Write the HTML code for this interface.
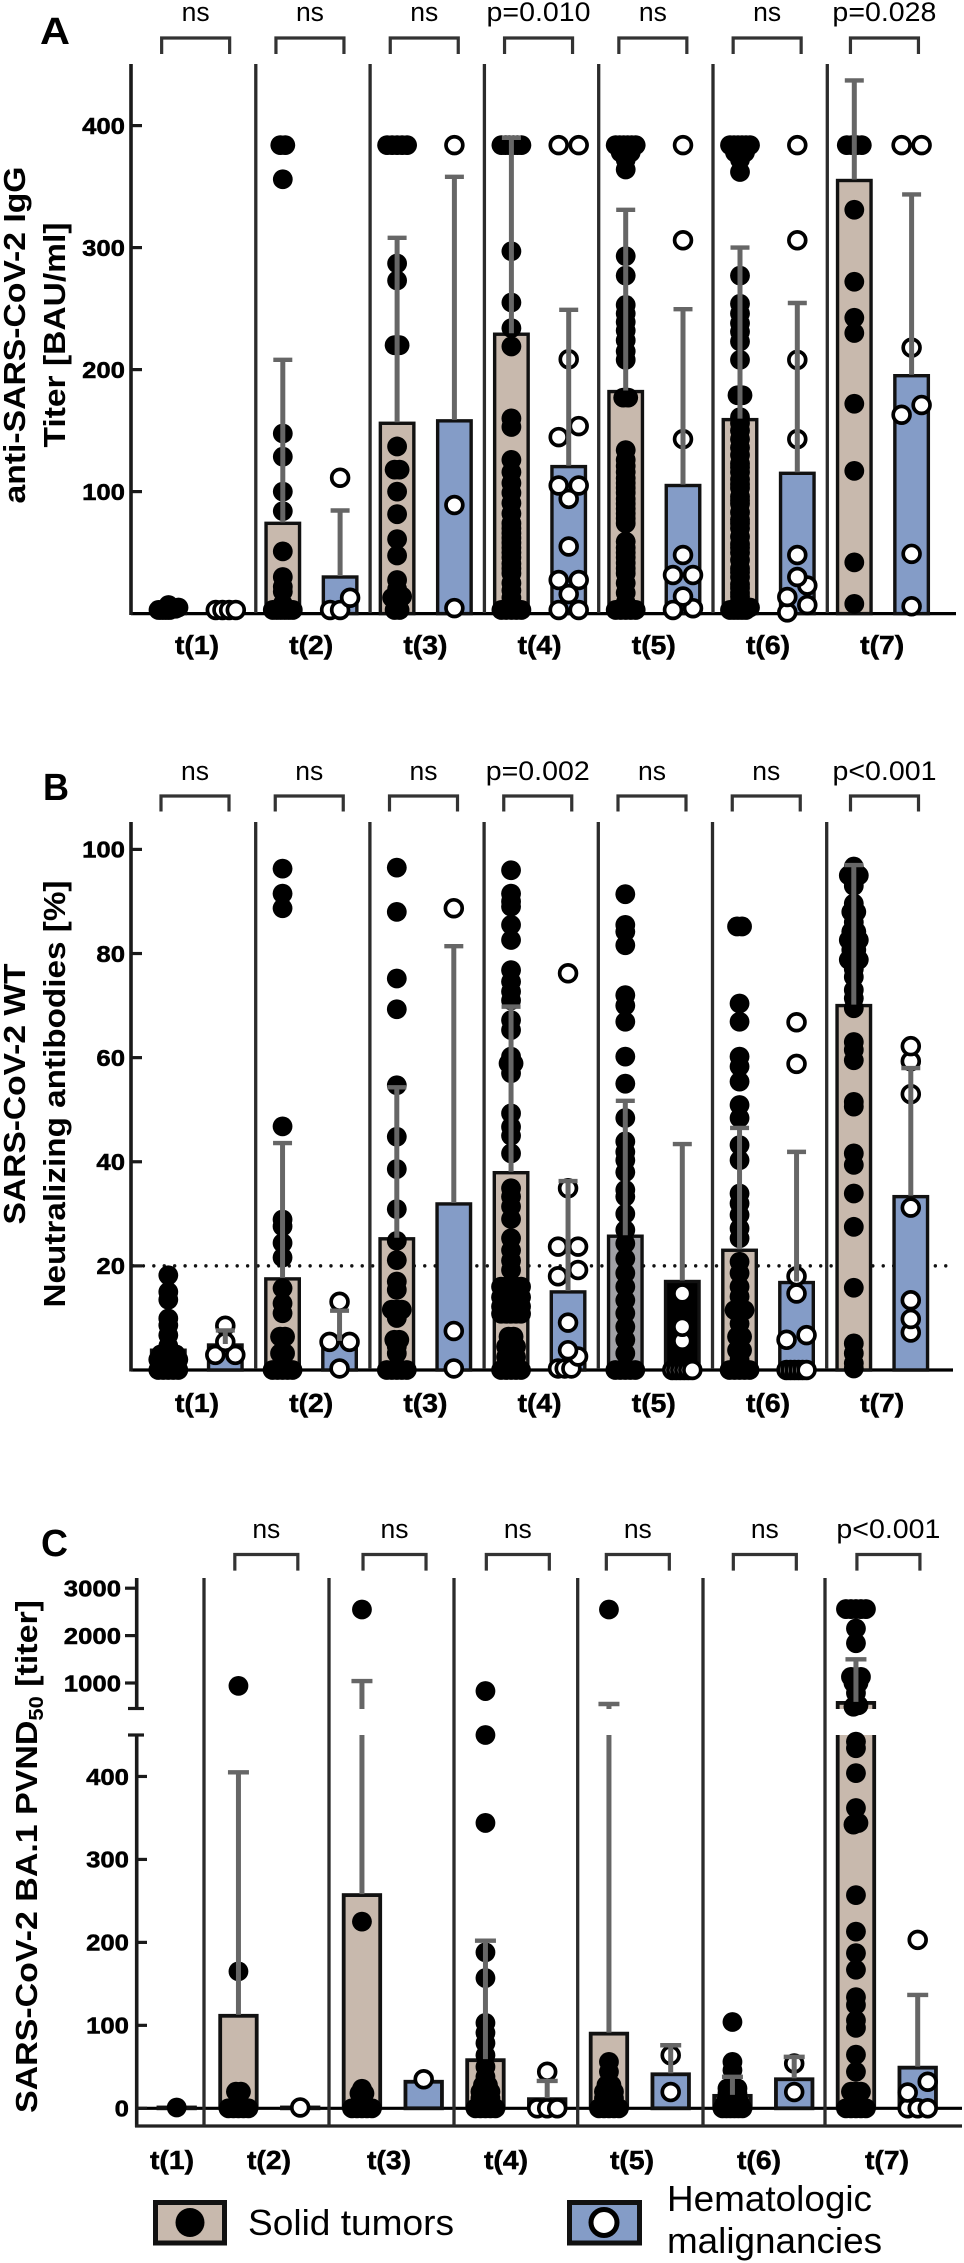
<!DOCTYPE html>
<html lang="en">
<head>
<meta charset="utf-8">
<title>SARS-CoV-2 antibody titers in solid tumors and hematologic malignancies</title>
<style>
html,body{margin:0;padding:0;background:#fff;}
svg{display:block;}
text{font-family:"Liberation Sans",sans-serif;fill:#000;}
.ttl{font-weight:bold;font-size:31px;}
.let{font-weight:bold;font-size:38px;}
.leg{font-size:36px;}
.heavy{stroke:#000;stroke-width:0.5px;}
</style>
</head>
<body>
<svg id="fig" xmlns="http://www.w3.org/2000/svg" width="964" height="2263" viewBox="0 0 964 2263">
  <text class="let" x="40" y="44" textLength="30" lengthAdjust="spacingAndGlyphs">A</text>
  <text class="let" x="43" y="800" textLength="26" lengthAdjust="spacingAndGlyphs">B</text>
  <text class="let" x="41" y="1556" textLength="27" lengthAdjust="spacingAndGlyphs">C</text>

  <text class="ttl" transform="translate(25,335) rotate(-90)" text-anchor="middle" textLength="337" lengthAdjust="spacingAndGlyphs">anti-SARS-CoV-2 IgG</text>
  <text class="ttl" transform="translate(65,335) rotate(-90)" text-anchor="middle" textLength="225" lengthAdjust="spacingAndGlyphs">Titer [BAU/ml]</text>
  <text class="ttl" transform="translate(25,1094) rotate(-90)" text-anchor="middle" textLength="261" lengthAdjust="spacingAndGlyphs">SARS-CoV-2 WT</text>
  <text class="ttl" transform="translate(65,1094) rotate(-90)" text-anchor="middle" textLength="427" lengthAdjust="spacingAndGlyphs">Neutralizing antibodies [%]</text>
  <text class="ttl" transform="translate(37,1856.5) rotate(-90)" text-anchor="middle" textLength="513" lengthAdjust="spacingAndGlyphs">SARS-CoV-2 BA.1 PVND<tspan dy="6" font-size="20">50</tspan><tspan dy="-6"> [titer]</tspan></text>

  <g id="layer-plots"></g>

  <g>
    <rect x="155.5" y="2202.5" width="69" height="40.5" fill="#c8b9ad" stroke="#111" stroke-width="5"/>
    <circle cx="190" cy="2222.5" r="14.5" fill="#000"/>
    <text class="leg" x="248" y="2235" textLength="206" lengthAdjust="spacingAndGlyphs">Solid tumors</text>
  </g>
  <g>
    <rect x="569.5" y="2202.5" width="70" height="40.5" fill="#849cc7" stroke="#111" stroke-width="5"/>
    <circle cx="604" cy="2222.5" r="13" fill="#fff" stroke="#000" stroke-width="5"/>
    <text class="leg" x="667" y="2211" textLength="205" lengthAdjust="spacingAndGlyphs">Hematologic</text>
    <text class="leg" x="667" y="2253" textLength="215" lengthAdjust="spacingAndGlyphs">malignancies</text>
  </g>
</svg>
<script>
const categories = ['t(1)','t(2)','t(3)','t(4)','t(5)','t(6)','t(7)'];

// Panel A – anti-SARS-CoV-2 IgG
const aTicks = [100,200,300,400];
const aSig = ['ns','ns','ns','p=0.010','ns','ns','p=0.028'];
const aMeanSolid = [4,74,156,229,182,159,355];
const aErrSolid = [4,208,308,390,331,300,437];
const aMeanHeme = [3,30,158,120.5,105,115,195];
const aErrHeme = [3,84.5,358,249,249.5,254.6,343.6];
const aPointsSolid = [
  [3,3,3,3,3,4,4,5,7],
  [3,3,3,3,3,3,8,18,22,30,51,84,100,128.6,147.6,356,384,384],
  [3,3,13,13,14,20,27.5,47.6,61,81.5,100,118,118,137,220,220,273,287,384,384,384,384,384],
  [3,3,3,3,3,8,13,19,25,33,37,41,46,50,54,58,62,66,70,74,82,90.6,99,107,116,126,153,160,219,234,255,297,384,384,384,384,384,384],
  [3,3,3,3,3,9,17,25,33,37,41.5,46,50,54,59,74,78,82,86,90,94,99,103,107,111,116,121,126,134,177,177,208,215,224,232,239,246,253,277,293,364,372,378,378,378,384,384,384,384,384,384],
  [3,3,3,3,3,5,7,10,14,17,21,24,30,34,37,44,50,54,57,63,70,74,77,83,90,93,96,103,106,110,116,120,123,130,136,143,150,156,161,179,179,208,223,231,238,246,254,277,362,372,378,378,378,384,384,384,384,384,384],
  [8,42,117,172,230,242.5,272,331,384,384,384,384]
];
const aPointsHeme = [
  [3,3,3,3],
  [3,3,13,111.4],
  [4.5,89,384],
  [3,3,16,27.5,27.5,55,94,105,105,144.7,153.7,208.5,384,384],
  [3,4.4,14,31.6,31.6,48,143,306,384],
  [1,7,13.6,23,30,48,143,208,306,384],
  [6,49,163,171,218,384,384]
];

// Panel B – SARS-CoV-2 WT neutralizing antibodies
const bTicks = [20,40,60,80,100];
const bSig = ['ns','ns','ns','p=0.002','ns','ns','p<0.001'];
const bThreshold = [20];
const bMeanSolid = [3.8,17.5,25.2,37.9,25.7,23,70];
const bErrSolid = [3.8,43.6,54.3,69.8,51.7,46.5,97];
const bMeanHeme = [4.8,5.4,31.9,15,17,16.8,33.3];
const bErrHeme = [7.6,11.4,81.4,36.3,43.4,41.9,58];
const bPointsSolid = [
  [0,0,0,0,0,2,2,2,2,2,3,3,3,3,4.6,6.7,8.6,9.9,13.5,15,18.2],
  [0,0,0,0,0,3.2,3.2,6.4,6.4,10.9,12.8,15.7,21.6,24.4,27.6,28.9,46.8,88.7,91.5,96.3],
  [0,0,0,0,0,3.2,4.5,5.8,5.8,10,11.6,11.6,11.6,15.4,17,21.1,24.8,30.9,38.6,44.8,54.7,69.3,75.2,88,96.5],
  [0,0,0,0,0,2.5,2.5,2.5,4.5,4.5,4.5,6.4,6.4,10.8,10.8,10.8,10.8,10.8,12.2,12.2,12.2,12.2,12.2,14,14,14,14,14,16,16,16,16,16,19.2,21,23,25.3,29,31.4,33.3,34.9,41.6,45,46.7,49.3,57,58.9,58.9,60.2,65.3,67.2,71,72.7,74.6,76.8,82.6,85.5,89,90,91.5,96],
  [0,0,0,0,0,3.2,5.8,8.3,10.9,13.4,16,18.6,21.4,24.3,26.9,30,33.3,34.6,38,40.3,41.9,43.9,48.4,55,60.2,66.9,70,72,81.6,84.2,85.5,91.4],
  [0,0,0,0,0,2,3.8,3.8,6.4,6.4,8.9,11.5,11.5,11.5,14.1,16,18.6,20.8,25.3,27.2,29.8,32,33.9,40.3,43.2,48.4,50.9,55.4,58.3,60.2,66.9,70.4,85.2,85.2],
  [0.3,1.3,3.2,5.1,15.8,27.5,33.9,39.4,41.6,50.6,51.5,59.5,61.5,63,69.5,71.4,73,75.5,77,78.8,78.8,78.8,80.7,80.7,82.6,82.6,82.6,84.2,84.2,86,88,88,89.6,93,95,95,95,96.7]
];
const bPointsHeme = [
  [2.9,2.9,5.4,8.5],
  [0.3,5.4,5.4,13.1],
  [0.3,7.5,88.7],
  [0.3,0.3,0.3,2.6,3.8,9.1,18,19.2,23.7,23.7,34.9,76.2],
  [0,0,0,0,0,0,5.6,8.3,14.7],
  [0,0,0,0,0,0,5.8,6.7,14.7,18,58.8,66.8],
  [7.2,9.8,13.4,31.2,53,59.3,62.2]
];

// Panel C – BA.1 PVND50
const cTicksLower = [0,100,200,300,400];
const cTicksUpper = [1000,2000,3000];
const cSig = ['','ns','ns','ns','ns','ns','p<0.001'];
const cMeanSolid = [1,111.5,257,58,90,15,580];
const cErrSolid = [1,405,1040,202,557,38,1500];
const cMeanHeme = [null,1,32,11,41,35,49];
const cErrHeme = [null,1,32,33,76,62,136.6];
const cPointsSolid = [
  [1],
  [0,0,0,0,0,20,20,165,940],
  [0,0,0,0,0,18,18,23.5,225,2550],
  [0,0,0,0,0,4,4,4,12,12,12,20,20,20,28,28,38,50,64,78.6,91,103,157,188,344,450,830],
  [0,0,0,0,0,4,4,4,12,12,12,20,20,20,28,28,44,56,2550],
  [0,0,0,0,0,0,6,6,6,6,18,18,18,24,24,24,46,56,104],
  [0,0,0,0,0,20,20,20,44,64.6,97,106,124.6,134,167,187,213,257,342,344,362,404,434,442,500,530,790,1000,1000,1130,1130,1130,1840,2150,2560,2560,2560,2560,2560]
];
const cPointsHeme = [
  [],
  [1],
  [35],
  [0,0,0,44],
  [19.6,64],
  [19.6,54],
  [0,0,0,19,32,203]
];

const NS = 'http://www.w3.org/2000/svg';
const plots = document.getElementById('layer-plots');
const SOLID_FILL = '#c8b9ad', HEME_FILL = '#849cc7';

function svgEl(tag, attrs, parent) {
  const el = document.createElementNS(NS, tag);
  for (const k in attrs) el.setAttribute(k, attrs[k]);
  (parent || plots).appendChild(el);
  return el;
}

// axis functions
const yA = v => 613.6 - v * 1.22;
const yB = v => 1370 - v * 5.206;
const yC = v => v <= 450 ? 2108.3 - v * 0.8296 : 1683 - (v - 1000) * 0.0474;

// category scales
const xA = (i, s) => 168.5 + 114.3 * i + (s ? 57.3 : 0);
const xB = (i, s) => 168.3 + 114.25 * i + (s ? 57 : 0);
const xC = (i, s) => 176.7 + 61.75 * (i === 0 ? 0 : 2 * i - 1) + (s ? 61.75 : 0);

// GraphPad-like row layout: near-equal values share a row and spread symmetrically
function rowLayout(values, yf, rowPx, stepMax) {
  const sorted = values.slice().sort((a, b) => a - b);
  const out = [];
  let row = [];
  const flush = () => {
    const k = row.length;
    const span = Math.min(stepMax * (k - 1), 20);
    row.forEach((v, i) => out.push({ v: v, dx: k > 1 ? -span / 2 + i * span / (k - 1) : 0 }));
    row = [];
  };
  sorted.forEach(v => {
    if (row.length && Math.abs(yf(v) - yf(row[0])) > rowPx) flush();
    row.push(v);
  });
  if (row.length) flush();
  return out;
}

function drawBar(cfg, i, s, mean, fill) {
  if (mean === null) return;
  const yTop = cfg.y(mean), yBase = cfg.y(0), cx = cfg.x(i, s);
  const r = svgEl('rect', { x: cx - cfg.barW / 2, y: yTop, width: cfg.barW, height: Math.max(yBase - yTop, 0.5), fill: fill, stroke: '#111', 'stroke-width': cfg.barStroke });
  
  
}

function drawPoints(cfg, i, s, values) {
  const g = svgEl('g', {});
  
  
  const placed = s ? rowLayout(values, cfg.y, 13, 20) : rowLayout(values, cfg.y, 3, 5);
  placed.forEach(p => {
    const c = svgEl('circle', s
      ? { cx: cfg.x(i, s) + p.dx, cy: cfg.y(p.v), r: 8.4, fill: '#fff', stroke: '#000', 'stroke-width': 3.7 }
      : { cx: cfg.x(i, s) + p.dx, cy: cfg.y(p.v), r: 9.9, fill: '#000' }, g);
    
    
  });
}

function drawError(cfg, i, s, mean, err) {
  if (mean === null || err <= mean) return;
  const cx = cfg.x(i, s), yM = cfg.y(mean), yE = cfg.y(err);
  const g = svgEl('g', {});
  
  
  if (cfg.gap && yM > cfg.gap[1] && yE < cfg.gap[0]) {
    svgEl('line', { x1: cx, x2: cx, y1: yM - 1, y2: cfg.gap[1], stroke: '#666', 'stroke-width': 5 }, g);
    svgEl('line', { x1: cx, x2: cx, y1: cfg.gap[0], y2: yE, stroke: '#666', 'stroke-width': 5 }, g);
  } else {
    svgEl('line', { x1: cx, x2: cx, y1: yM - 1, y2: yE, stroke: '#666', 'stroke-width': 5 }, g);
  }
  svgEl('line', { x1: cx - cfg.capW / 2, x2: cx + cfg.capW / 2, y1: yE, y2: yE, stroke: '#666', 'stroke-width': 4.4 }, g);
}

function drawLine(name, x1, y1, x2, y2, color, width) {
  const l = svgEl('line', { x1: x1, y1: y1, x2: x2, y2: y2, stroke: color, 'stroke-width': width });
  
  
  return l;
}

function drawTickLabel(name, txt, xRight, y, size) {
  const t = svgEl('text', { x: xRight, y: y + 8.3, class: 'heavy', 'text-anchor': 'end', 'font-weight': 'bold', 'font-size': size, textLength: txt.length * 14.3, lengthAdjust: 'spacingAndGlyphs' });
  t.textContent = txt;
  
  
}

function drawSig(cfg, i, label) {
  if (!label) return;
  const cx = (cfg.x(i, 0) + cfg.x(i, 1)) / 2 + cfg.brShift[i];
  const hw = cfg.brHalf;
  const br = svgEl('path', { d: 'M' + (cx - hw) + ' ' + cfg.brBottom + 'V' + cfg.brTop + 'H' + (cx + hw) + 'V' + cfg.brBottom, fill: 'none', stroke: '#333', 'stroke-width': 3.2 });
  
  
  const t = svgEl('text', { x: cx, y: cfg.sigY, 'text-anchor': 'middle', 'font-size': 27, textLength: label === 'ns' ? 28 : 104, lengthAdjust: 'spacingAndGlyphs' });
  t.textContent = label;
  
  
}

function drawCategoryLabel(cfg, i, x) {
  const t = svgEl('text', { x: x, y: cfg.catY, class: 'heavy', 'text-anchor': 'middle', 'font-weight': 'bold', 'font-size': 26, textLength: 44, lengthAdjust: 'spacingAndGlyphs' });
  t.textContent = categories[i];
  
  
}

function drawSeries(cfg, d) {
  categories.forEach((c, i) => {
    let solidFill = SOLID_FILL, hemeFill = HEME_FILL;
    if (cfg.id === 'b' && i === 0) { solidFill = '#000'; }
    if (cfg.id === 'b' && i === 4) { solidFill = '#a0a0a5'; hemeFill = '#000'; }
    drawBar(cfg, i, 0, d.meanSolid[i], solidFill);
    drawBar(cfg, i, 1, d.meanHeme[i], hemeFill);
  });
  if (cfg.gap) {
    const strip = svgEl('rect', { x: 138, y: cfg.gap[0], width: 826, height: cfg.gap[1] - cfg.gap[0], fill: '#fff' });
    
    
  }
  categories.forEach((c, i) => {
    drawPoints(cfg, i, 0, d.pointsSolid[i]);
    drawPoints(cfg, i, 1, d.pointsHeme[i]);
  });
  categories.forEach((c, i) => {
    drawError(cfg, i, 0, d.meanSolid[i], d.errSolid[i]);
    drawError(cfg, i, 1, d.meanHeme[i], d.errHeme[i]);
  });
}

/* ---------- Panel A ---------- */
const cfgA = { id: 'a', x: xA, y: yA, barW: 33.5, barStroke: 3.4, capW: 19, brTop: 38, brBottom: 54, brHalf: 34, brShift: [-1.5,-1.5,-1.5,-1.5,-1.5,-1.5,1.5], sigY: 21, catY: 654 };
drawLine('x-axis-baseline-a', 131, yA(0), 956, yA(0), '#000', 3.2);
drawSeries(cfgA, { meanSolid: aMeanSolid, errSolid: aErrSolid, meanHeme: aMeanHeme, errHeme: aErrHeme, pointsSolid: aPointsSolid, pointsHeme: aPointsHeme });
drawLine('y-axis-a', 131, 64, 131, 615, '#1a1a1a', 3.6);
for (let i = 1; i < 7; i++) drawLine('separator-a-' + i, 141.5 + 114.3 * i, 64, 141.5 + 114.3 * i, 613, '#2b2b2b', 3.3);
aTicks.forEach(v => {
  drawLine('y-tick-a-' + v, 131, yA(v), 142, yA(v), '#1a1a1a', 3.2);
  drawTickLabel('y-tick-label-a-' + v, String(v), 125, yA(v), 23.5);
});
categories.forEach((c, i) => {
  drawSig(cfgA, i, aSig[i]);
  drawCategoryLabel(cfgA, i, 197 + 114.2 * i);
});

/* ---------- Panel B ---------- */
const cfgB = { id: 'b', x: xB, y: yB, barW: 33.5, barStroke: 3.4, capW: 19, brTop: 796, brBottom: 811.5, brHalf: 34, brShift: [-1.8,-1.8,-1.8,-1.8,-1.8,-1.8,2.2], sigY: 780, catY: 1412 };
const dotted = drawLine('threshold-line-b', 133, yB(bThreshold[0]), 946, yB(bThreshold[0]), '#111', 3.4);
dotted.setAttribute('stroke-dasharray', '0 10.42');
dotted.setAttribute('stroke-linecap', 'round');
drawLine('x-axis-baseline-b', 131, yB(0), 953, yB(0), '#000', 3.2);
drawSeries(cfgB, { meanSolid: bMeanSolid, errSolid: bErrSolid, meanHeme: bMeanHeme, errHeme: bErrHeme, pointsSolid: bPointsSolid, pointsHeme: bPointsHeme });
drawLine('y-axis-b', 131, 822, 131, 1371.5, '#1a1a1a', 3.6);
for (let i = 1; i < 7; i++) drawLine('separator-b-' + i, 141.5 + 114.2 * i, 822, 141.5 + 114.2 * i, 1369, '#2b2b2b', 3.3);
bTicks.forEach(v => {
  drawLine('y-tick-b-' + v, 131, yB(v), 142, yB(v), '#1a1a1a', 3.2);
  drawTickLabel('y-tick-label-b-' + v, String(v), 125, yB(v), 23.5);
});
categories.forEach((c, i) => {
  drawSig(cfgB, i, bSig[i]);
  drawCategoryLabel(cfgB, i, 197 + 114.2 * i);
});

/* ---------- Panel C ---------- */
const cfgC = { id: 'c', x: xC, y: yC, gap: [1709, 1735], barW: 36.5, barStroke: 3.8, capW: 21, brTop: 1554.5, brBottom: 1570.6, brHalf: 31.5, brShift: [0,-3,1.7,1.5,-2,1.5,1.6], sigY: 1538, catY: 2169 };
drawLine('zero-line-c', 137, yC(0), 962, yC(0), '#000', 3.2);
drawSeries(cfgC, { meanSolid: cMeanSolid, errSolid: cErrSolid, meanHeme: cMeanHeme, errHeme: cErrHeme, pointsSolid: cPointsSolid, pointsHeme: cPointsHeme });
drawLine('y-axis-c-upper', 136.7, 1578, 136.7, 1709, '#1a1a1a', 3.6);
drawLine('y-axis-c-lower', 136.7, 1735, 136.7, 2127, '#1a1a1a', 3.6);
drawLine('y-axis-break-cap-upper', 128, 1708.5, 144, 1708.5, '#1a1a1a', 3.2);
drawLine('y-axis-break-cap-lower', 128, 1735, 144, 1735, '#1a1a1a', 3.2);
drawLine('x-axis-c', 135, 2126, 962, 2126, '#222', 3.3);
const cSeparators = [204, 329, 454, 577.7, 703, 825];
cSeparators.forEach((sx, i) => drawLine('separator-c-' + (i + 1), sx, 1578, sx, 2126, '#2b2b2b', 3.3));
cTicksLower.forEach(v => {
  drawLine('y-tick-c-' + v, 136.7, yC(v), 147, yC(v), '#1a1a1a', 3.2);
  drawTickLabel('y-tick-label-c-' + v, String(v), 129, yC(v), 23.5);
});
cTicksUpper.forEach(v => {
  drawLine('y-tick-c-' + v, 125, yC(v), 136.7, yC(v), '#1a1a1a', 3.2);
  drawTickLabel('y-tick-label-c-' + v, String(v), 121, yC(v), 23.5);
});
const cLabelX = [172, 269, 389, 506, 632, 759, 887];
categories.forEach((c, i) => {
  drawSig(cfgC, i, cSig[i]);
  drawCategoryLabel(cfgC, i, cLabelX[i]);
});
</script>
</body>
</html>
